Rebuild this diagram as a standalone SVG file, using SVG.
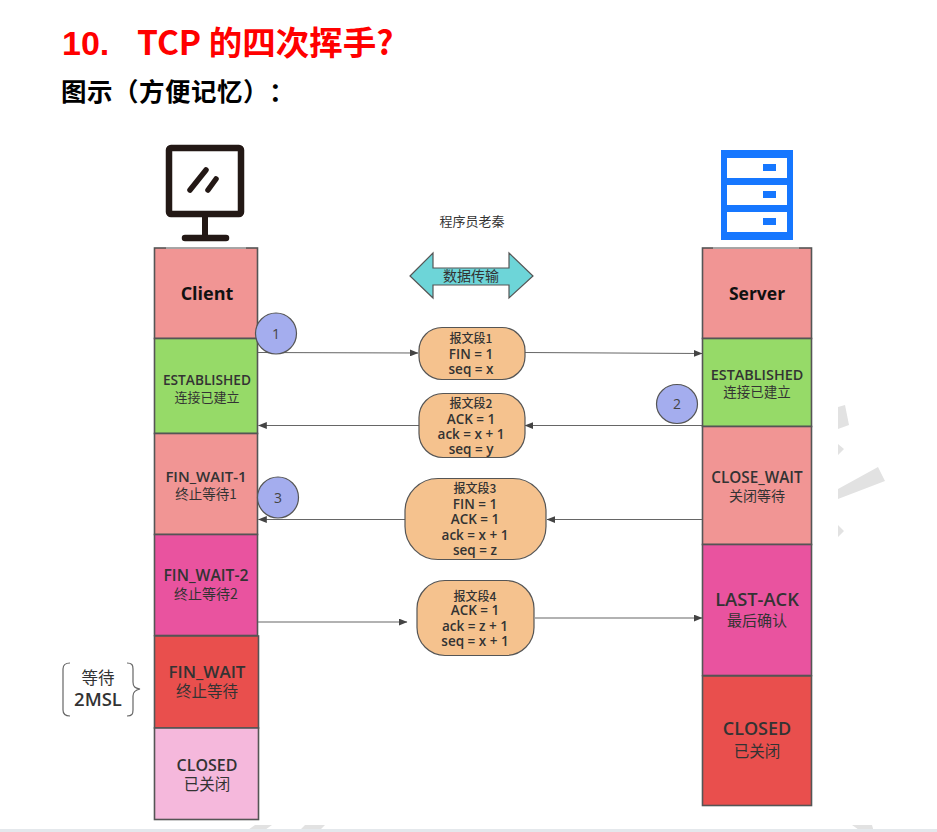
<svg xmlns="http://www.w3.org/2000/svg" width="937" height="832" viewBox="0 0 937 832">
<style>
text{font-family:"Open Sans","Noto Sans CJK SC",sans-serif;fill:#333;text-anchor:middle}
.h1{font-family:"Noto Sans CJK SC",sans-serif;text-anchor:start;font-weight:700}
.st{stroke:#555;stroke-width:1.6}
.m{font-weight:600}
.c{font-family:"Noto Sans CJK SC",sans-serif}
.pk{fill:#f5c28e;stroke:#555;stroke-width:1.2}
.pt{font-size:13.5px;font-weight:600;fill:#333}
.pc{font-size:12px;font-weight:500;fill:#333;font-family:"Noto Sans CJK SC",sans-serif}
.num{fill:#a4adee;stroke:#555;stroke-width:1.2}
.n{font-size:14px;fill:#444;font-weight:400}
.wm{fill:#e2e2e2}
.ln{stroke:#666;stroke-width:1.2;fill:none}
.top{stroke:#b8b8b8;stroke-width:1.6}
</style>
<defs><marker id="a" viewBox="0 0 10 8" refX="9.5" refY="4" markerWidth="9" markerHeight="7" markerUnits="userSpaceOnUse" orient="auto"><path d="M0 0L10 4L0 8z" fill="#444"/></marker></defs>
<rect width="937" height="832" fill="#fff"/>
<g id="watermark">
<path class="wm" d="M838 407L845 405L849 425L838 429zM838 444L844 449L838 455zM838 499V489L878 467L885 481L838 499zM838 525L844 531L838 537zM245 832L255 825H272L262 832zM298 832L305 825H325L318 832zM862 832L852 825H872L874 832z"/>
<rect y="829" width="937" height="3" fill="#e4e8ec"/>
</g>
<g id="heading">
<text class="h1" x="62" y="55" font-size="34" style="fill:#f00;font-family:'Liberation Sans',sans-serif">10.</text>
<text class="h1" x="137" y="55" font-size="33.500" style="fill:#f00">TCP 的四次挥手?</text>
<text class="h1" x="61 87 113 139 165 191 217 243 269" y="101" font-size="25.500" style="fill:#000">图示（方便记忆）：</text>
<text x="472" y="226" style="font-family:'Noto Sans CJK SC',sans-serif;font-size:13px">程序员老秦</text>
</g>
<g id="client-icon" fill="none" stroke="#231815">
<rect x="169" y="148" width="72" height="66" rx="2" stroke-width="6.500"/>
<path d="M205 216V237" stroke-width="6"/>
<path d="M185 238H226" stroke-width="6.500" stroke-linecap="round"/>
<path d="M190 190L206 170M208 190L216 179" stroke-width="5.500" stroke-linecap="round"/>
</g>
<g id="server-icon">
<rect x="721" y="150" width="72" height="90" fill="#1677ff"/>
<rect x="727" y="158" width="60" height="20" fill="#fff"/><rect x="727" y="185" width="60" height="20" fill="#fff"/><rect x="727" y="212" width="60" height="20" fill="#fff"/>
<rect x="763" y="164" width="13" height="7" fill="#1677ff"/><rect x="763" y="191" width="13" height="7" fill="#1677ff"/><rect x="763" y="218" width="13" height="7" fill="#1677ff"/>
</g>
<g id="client-column">
<g id="c-client"><rect class="st" x="154.500" y="248" width="103" height="90.500" fill="#f19594"/><path class="top" d="M166 248H246"/><text x="207" y="300" font-size="18" font-weight="700" style="fill:#111">Client</text></g>
<g id="c-established"><rect class="st" x="154.500" y="338.500" width="103" height="95" fill="#96da68"/><text class="m" x="207" y="385" font-size="13.700">ESTABLISHED</text><text class="c" x="207" y="402" font-size="13">连接已建立</text></g>
<g id="c-finwait1"><rect class="st" x="154.500" y="433.500" width="103" height="101" fill="#f19594"/><text class="m" x="206" y="482" font-size="15">FIN_WAIT-1</text><text class="c" x="206" y="499" font-size="13.500">终止等待1</text></g>
<g id="c-finwait2"><rect class="st" x="154.500" y="534.500" width="103" height="101" fill="#e9539f"/><text class="m" x="206" y="581" font-size="15.700">FIN_WAIT-2</text><text class="c" x="206" y="599" font-size="14">终止等待2</text></g>
<g id="c-finwait"><rect class="st" x="154.500" y="636" width="104" height="92" fill="#e94f4d"/><text class="m" x="207" y="678" font-size="17">FIN_WAIT</text><text class="c" x="207" y="697" font-size="15.500">终止等待</text></g>
<g id="c-closed"><rect class="st" x="154.500" y="728" width="104" height="91.500" fill="#f5b8dc"/><text class="m" x="207" y="771" font-size="16">CLOSED</text><text class="c" x="207" y="790" font-size="15.500">已关闭</text></g>
</g>
<g id="server-column">
<g id="s-server"><rect class="st" x="702.500" y="248" width="109" height="90.500" fill="#f19594"/><path class="top" d="M713 248H799"/><text x="757" y="300" font-size="17.500" font-weight="700" style="fill:#111">Server</text></g>
<g id="s-established"><rect class="st" x="702.500" y="338.500" width="109" height="88" fill="#96da68"/><text class="m" x="757" y="380" font-size="14.400">ESTABLISHED</text><text class="c" x="757" y="397" font-size="13.500">连接已建立</text></g>
<g id="s-closewait"><rect class="st" x="702.500" y="426.500" width="109" height="118" fill="#f19594"/><text class="m" x="757" y="483" font-size="15.300">CLOSE_WAIT</text><text class="c" x="757" y="501" font-size="14">关闭等待</text></g>
<g id="s-lastack"><rect class="st" x="702.500" y="544.500" width="109" height="131" fill="#e9539f"/><text class="m" x="757" y="606" font-size="18.300">LAST-ACK</text><text class="c" x="757" y="626" font-size="15">最后确认</text></g>
<g id="s-closed"><rect class="st" x="702.500" y="676" width="109" height="129.500" fill="#e94f4d"/><text class="m" x="757" y="735" font-size="18">CLOSED</text><text class="c" x="757" y="757" font-size="15.500">已关闭</text></g>
</g>
<g id="connectors">
<path class="ln" marker-end="url(#a)" d="M258 352.500L418 353"/>
<path class="ln" marker-end="url(#a)" d="M525 352.500L702 353.500"/>
<path class="ln" marker-end="url(#a)" d="M419 425.500H258.500"/>
<path class="ln" marker-end="url(#a)" d="M702 425.500H525"/>
<path class="ln" marker-end="url(#a)" d="M405 519.500H258.500"/>
<path class="ln" marker-end="url(#a)" d="M702 519.500H547"/>
<path class="ln" marker-end="url(#a)" d="M258 622H407"/>
<path class="ln" marker-end="url(#a)" d="M535 618H702"/>
</g>
<g id="data-transfer">
<path d="M410 276L433 253V268H509V253L533 276L509 298V285H433V298Z" fill="#6dd5d8" stroke="#555" stroke-width="1.200"/>
<text class="c" x="471" y="281" font-size="14">数据传输</text>
</g>
<g id="seg1"><rect class="pk" x="419" y="327.500" width="106" height="52" rx="23"/><text class="pc" x="471" y="343">报文段1</text><text class="pt" x="471" y="358.500">FIN = 1</text><text class="pt" x="471" y="373.500">seq = x</text></g>
<g id="seg2"><rect class="pk" x="419" y="393.500" width="106" height="64" rx="24"/><text class="pc" x="471" y="408">报文段2</text><text class="pt" x="471" y="424">ACK = 1</text><text class="pt" x="471" y="439">ack = x + 1</text><text class="pt" x="471" y="454">seq = y</text></g>
<g id="seg3"><rect class="pk" x="405" y="478.500" width="141" height="81" rx="33"/><text class="pc" x="475" y="493">报文段3</text><text class="pt" x="475" y="509">FIN = 1</text><text class="pt" x="475" y="524">ACK = 1</text><text class="pt" x="475" y="540">ack = x + 1</text><text class="pt" x="475" y="555">seq = z</text></g>
<g id="seg4"><rect class="pk" x="417" y="580.500" width="117" height="75" rx="28"/><text class="pc" x="475" y="601">报文段4</text><text class="pt" x="475" y="615">ACK = 1</text><text class="pt" x="475" y="631">ack = z + 1</text><text class="pt" x="475" y="646">seq = x + 1</text></g>
<g id="badge1"><circle class="num" cx="276" cy="333.500" r="20.500"/><text class="n" x="276" y="339">1</text></g>
<g id="badge2"><ellipse class="num" cx="677" cy="404" rx="20.500" ry="19.500"/><text class="n" x="677" y="409">2</text></g>
<g id="badge3"><circle class="num" cx="278" cy="497.500" r="20.500"/><text class="n" x="278" y="503">3</text></g>
<g id="wait-2msl">
<path class="ln" d="M70 663C65 663 63 665 63 669V710C63 714 65 716 70 716M127 663C132 663 133 665 133 669V682C133 687 135 688 140 689C135 690 133 692 133 696V710C133 714 132 716 127 716"/>
<text class="c" x="98" y="684" font-size="16.500">等待</text>
<text class="m" x="98" y="706" font-size="18.500">2MSL</text>
</g>
</svg>
